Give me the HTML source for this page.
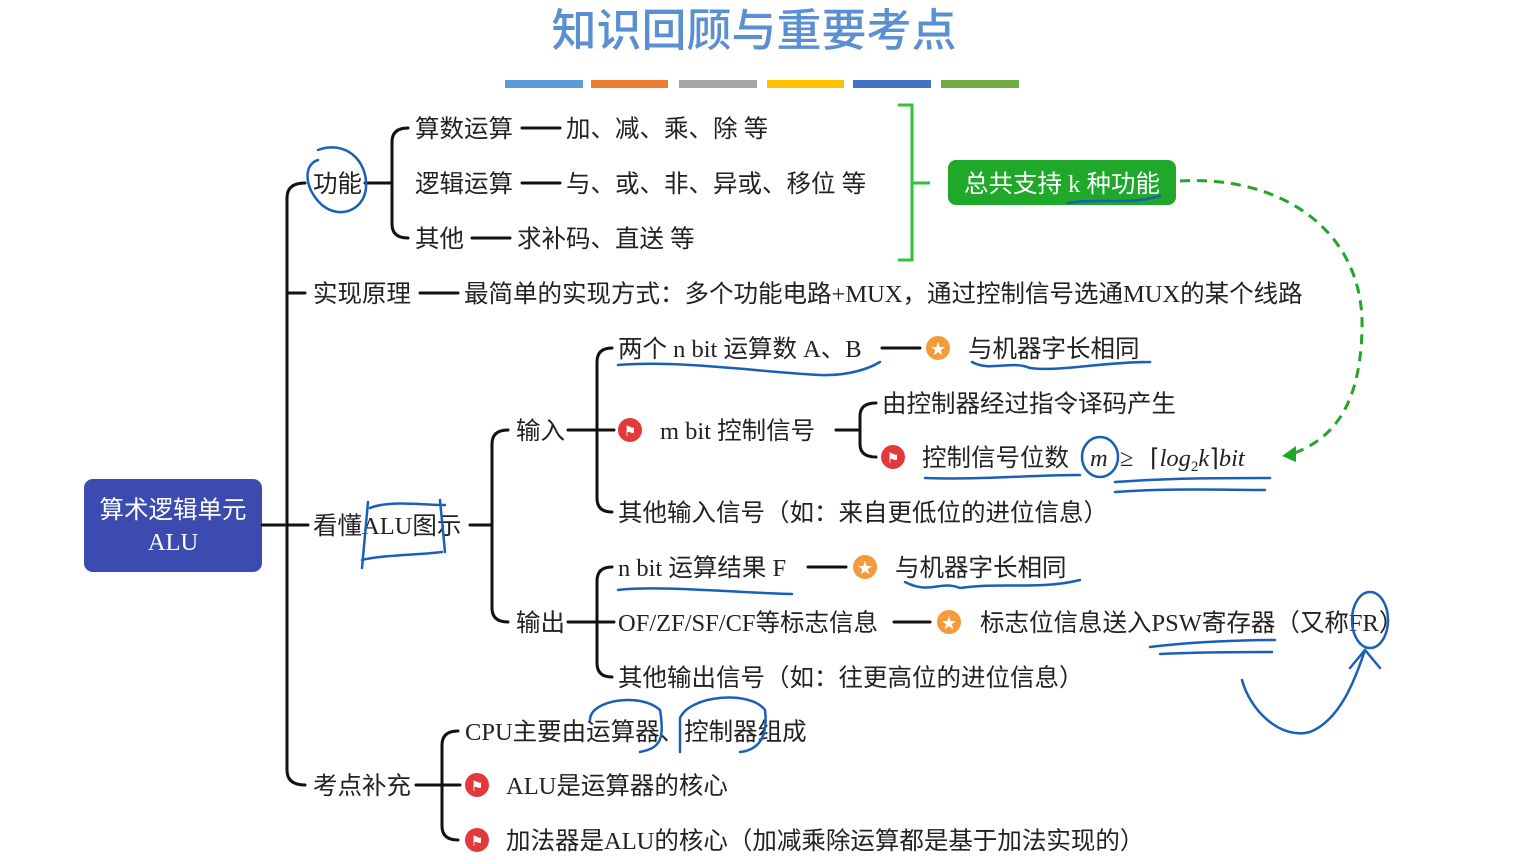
<!DOCTYPE html>
<html><head><meta charset="utf-8"><style>
html,body{margin:0;padding:0;background:#fff;}
svg{display:block;}
text{font-family:"Liberation Serif","Noto Sans CJK SC",sans-serif;font-size:24.5px;fill:#222;}
</style></head><body>
<svg width="1533" height="864" viewBox="0 0 1533 864" xmlns="http://www.w3.org/2000/svg">
<text x="754" y="46" text-anchor="middle" style="font-size:45px;fill:#5a8fd2;font-family:'Noto Sans CJK SC',sans-serif;font-weight:500">知识回顾与重要考点</text>
<g stroke-width="8">
<line x1="505" y1="84" x2="583" y2="84" stroke="#5b9bd5"/>
<line x1="591" y1="84" x2="668" y2="84" stroke="#ed7d31"/>
<line x1="679" y1="84" x2="757" y2="84" stroke="#a5a5a5"/>
<line x1="767" y1="84" x2="844" y2="84" stroke="#ffc000"/>
<line x1="853" y1="84" x2="931" y2="84" stroke="#4472c4"/>
<line x1="941" y1="84" x2="1019" y2="84" stroke="#70ad47"/>
</g>
<rect x="84" y="479" width="178" height="93" rx="9" fill="#3c4bb0"/>
<text x="173" y="518" text-anchor="middle" style="fill:#fff">算术逻辑单元</text>
<text x="173" y="550" text-anchor="middle" style="fill:#fff">ALU</text>
<g fill="none" stroke="#111" stroke-width="3" stroke-linecap="round">
<line x1="262" y1="525" x2="308" y2="525"/>
<path d="M305,183 Q287,183 287,198 L287,770 Q287,785 305,785"/>
<line x1="287" y1="293" x2="305" y2="293"/>
<line x1="365" y1="183" x2="392" y2="183"/>
<path d="M408,128 Q392,128 392,142 L392,224 Q392,238 408,238"/>
<line x1="522" y1="128" x2="560" y2="128"/>
<line x1="522" y1="183" x2="560" y2="183"/>
<line x1="472" y1="238" x2="510" y2="238"/>
<line x1="420" y1="293" x2="458" y2="293"/>
<line x1="470" y1="525" x2="492" y2="525"/>
<path d="M508,430 Q492,430 492,444 L492,608 Q492,622 508,622"/>
<line x1="568" y1="430" x2="597" y2="430"/>
<path d="M612,348 Q597,348 597,362 L597,498 Q597,512 612,512"/>
<line x1="597" y1="430" x2="614" y2="430"/>
<line x1="882" y1="348" x2="920" y2="348"/>
<line x1="836" y1="430" x2="860" y2="430"/>
<path d="M876,403 Q860,403 860,416 L860,444 Q860,457 876,457"/>
<line x1="568" y1="622" x2="597" y2="622"/>
<path d="M612,567 Q597,567 597,581 L597,663 Q597,677 612,677"/>
<line x1="597" y1="622" x2="614" y2="622"/>
<line x1="808" y1="567" x2="846" y2="567"/>
<line x1="894" y1="622" x2="930" y2="622"/>
<line x1="416" y1="785" x2="442" y2="785"/>
<path d="M458,731 Q442,731 442,745 L442,826 Q442,840 458,840"/>
<line x1="442" y1="785" x2="460" y2="785"/>
</g>
<path d="M898,105 L912,105 L912,260 L898,260 M912,183 L930,183" fill="none" stroke="#2ec33a" stroke-width="3"/>
<rect x="948" y="160" width="228" height="45" rx="8" fill="#1fa82a"/>
<text x="1062" y="192" text-anchor="middle" style="fill:#fff">总共支持 k 种功能</text>
<path d="M1180,181 C1280,175 1365,230 1362,330 C1360,410 1330,440 1292,454" fill="none" stroke="#22a52a" stroke-width="3" stroke-dasharray="10,7"/>
<path d="M1282,456 L1296,446 L1296,462 Z" fill="#22a52a"/>
<text x="313" y="192">功能</text>
<text x="415" y="137">算数运算</text><text x="566" y="137">加、减、乘、除 等</text>
<text x="415" y="192">逻辑运算</text><text x="566" y="192">与、或、非、异或、移位 等</text>
<text x="415" y="247">其他</text><text x="517" y="247">求补码、直送 等</text>
<text x="313" y="302">实现原理</text>
<text x="464" y="302">最简单的实现方式：多个功能电路+MUX，通过控制信号选通MUX的某个线路</text>
<text x="313" y="534">看懂ALU图示</text>
<text x="516" y="439">输入</text>
<text x="618" y="357">两个 n bit 运算数 A、B</text>
<text x="968" y="357">与机器字长相同</text>
<text x="660" y="439">m bit 控制信号</text>
<text x="882" y="412">由控制器经过指令译码产生</text>
<text x="922" y="466">控制信号位数</text>
<text x="1090" y="466" font-style="italic">m</text>
<text x="1120" y="466">≥</text>
<text x="1150" y="466">⌈<tspan font-style="italic">log</tspan><tspan font-size="15" dy="5">2</tspan><tspan dy="-5" font-style="italic">k</tspan>⌉<tspan font-style="italic">bit</tspan></text>
<text x="618" y="521">其他输入信号（如：来自更低位的进位信息）</text>
<text x="516" y="631">输出</text>
<text x="618" y="576">n bit 运算结果 F</text>
<text x="895" y="576">与机器字长相同</text>
<text x="618" y="631">OF/ZF/SF/CF等标志信息</text>
<text x="980" y="631">标志位信息送入PSW寄存器（又称FR）</text>
<text x="618" y="686">其他输出信号（如：往更高位的进位信息）</text>
<text x="313" y="794">考点补充</text>
<text x="465" y="740">CPU主要由运算器、控制器组成</text>
<text x="506" y="794">ALU是运算器的核心</text>
<text x="506" y="849">加法器是ALU的核心（加减乘除运算都是基于加法实现的）</text>
<g>
<circle cx="938" cy="348" r="12" fill="#f39a3a"/><text x="938" y="354" text-anchor="middle" style="fill:#fff;font-size:15px">★</text>
<circle cx="865" cy="567" r="12" fill="#f39a3a"/><text x="865" y="573" text-anchor="middle" style="fill:#fff;font-size:15px">★</text>
<circle cx="949" cy="622" r="12" fill="#f39a3a"/><text x="949" y="628" text-anchor="middle" style="fill:#fff;font-size:15px">★</text>
<circle cx="630" cy="430" r="12" fill="#e23a3a"/><text x="630" y="436" text-anchor="middle" style="fill:#fff;font-size:14px">⚑</text>
<circle cx="893" cy="457" r="12" fill="#e23a3a"/><text x="893" y="463" text-anchor="middle" style="fill:#fff;font-size:14px">⚑</text>
<circle cx="477" cy="785" r="12" fill="#e23a3a"/><text x="477" y="791" text-anchor="middle" style="fill:#fff;font-size:14px">⚑</text>
<circle cx="477" cy="840" r="12" fill="#e23a3a"/><text x="477" y="846" text-anchor="middle" style="fill:#fff;font-size:14px">⚑</text>
</g>
<g fill="none" stroke="#1a5fb8" stroke-width="2.5" stroke-linecap="round">
<path d="M318,150 C345,140 368,160 366,188 C364,210 340,220 322,205 C305,190 302,165 318,160"/>
<path d="M1068,203 C1100,198 1130,205 1160,196"/>
<path d="M618,365 C680,360 760,372 820,375 C850,376 870,368 880,362"/>
<path d="M972,362 C990,372 1010,360 1030,368 C1060,372 1100,362 1150,362"/>
<ellipse cx="1100" cy="457" rx="18" ry="20"/>
<path d="M925,478 C980,480 1030,475 1080,475"/>
<path d="M1115,482 C1170,478 1220,478 1270,478 M1115,492 C1170,488 1220,490 1265,490"/>
<path d="M618,590 C660,585 740,593 792,594"/>
<path d="M905,582 C930,595 940,580 960,588 C1000,582 1040,590 1080,580"/>
<path d="M1150,647 C1190,642 1240,640 1275,640 M1160,654 C1200,652 1240,652 1272,652"/>
<ellipse cx="1370" cy="620" rx="18" ry="28"/>
<path d="M1242,680 C1250,710 1280,740 1310,732 C1340,720 1355,680 1365,650 M1350,668 L1365,650 L1380,668"/>
<path d="M370,508 C390,500 420,505 445,505 M362,560 C380,555 420,555 442,552 M368,502 L362,568 M440,500 L445,552"/>
<path d="M590,720 C590,700 640,692 660,710 C665,740 660,748 640,752 M680,718 C690,695 750,690 765,710 C768,735 760,750 740,752 M680,718 L680,752"/>
</g>
</svg>
</body></html>
